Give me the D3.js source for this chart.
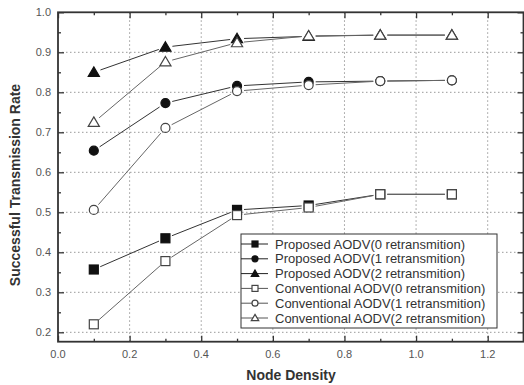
<!DOCTYPE html>
<html>
<head>
<meta charset="utf-8">
<script src="https://cdn.jsdelivr.net/npm/d3@7"></script>
<style>
  body { margin: 0; background: #fff; }
  text { font-family: "Liberation Sans", Arial, sans-serif; }
  .tick_label { font-size: 11px; fill: #555; }
  .axis_title { font-size: 14px; font-weight: bold; fill: #333; }
  .legend_text { font-size: 13px; fill: #333; }
</style>
</head>
<body>
<div id="d3-container"></div>
<script>
let density = [0.1, 0.3, 0.5, 0.7, 0.9, 1.1];

let proposed_0 = [0.357, 0.435, 0.506, 0.517, 0.545, 0.545];
let proposed_1 = [0.654, 0.773, 0.816, 0.826, 0.828, 0.830];
let proposed_2 = [0.850, 0.913, 0.934, 0.940, 0.943, 0.943];
let conventional_0 = [0.220, 0.378, 0.493, 0.512, 0.545, 0.545];
let conventional_1 = [0.506, 0.711, 0.803, 0.818, 0.828, 0.830];
let conventional_2 = [0.725, 0.876, 0.924, 0.941, 0.943, 0.943];

let series_names = [
    "Proposed AODV(0 retransmition)",
    "Proposed AODV(1 retransmition)",
    "Proposed AODV(2 retransmition)",
    "Conventional AODV(0 retransmition)",
    "Conventional AODV(1 retransmition)",
    "Conventional AODV(2 retransmition)"
];
let series_values = [proposed_0, proposed_1, proposed_2, conventional_0, conventional_1, conventional_2];
let series_shapes = ["square", "circle", "triangle", "square", "circle", "triangle"];
let series_filled = [true, true, true, false, false, false];

let x_ticks = [0.0, 0.2, 0.4, 0.6, 0.8, 1.0, 1.2];
let y_ticks = [0.2, 0.3, 0.4, 0.5, 0.6, 0.7, 0.8, 0.9, 1.0];

let window_width = 524;
let window_height = 385;
let plot_left = 58, plot_right = 523.5, plot_top = 12.3, plot_bottom = 341.7;

let svg = d3.select("#d3-container").append("svg")
    .attr("width", window_width)
    .attr("height", window_height);

let x = d3.scaleLinear().domain([0, 1.3]).range([plot_left, plot_right]);
let y = d3.scaleLinear().domain([0.1765, 1.0]).range([plot_bottom, plot_top]);

// grid
svg.append("g").selectAll("line")
    .data(x_ticks.slice(1))
    .enter().append("line")
    .attr("x1", d => x(d)).attr("x2", d => x(d))
    .attr("y1", plot_top).attr("y2", plot_bottom)
    .attr("stroke", "#999").attr("stroke-width", 1)
    .attr("stroke-dasharray", "1.5,2.5");
svg.append("g").selectAll("line")
    .data(y_ticks.slice(0, -1))
    .enter().append("line")
    .attr("x1", plot_left).attr("x2", plot_right)
    .attr("y1", d => y(d)).attr("y2", d => y(d))
    .attr("stroke", "#999").attr("stroke-width", 1)
    .attr("stroke-dasharray", "1.5,2.5");

// axes (inward ticks on all four sides)
let minor_x = d3.range(0.1, 1.3, 0.2);
let minor_y = d3.range(0.25, 1.0, 0.1);
svg.append("g").attr("transform", "translate(0," + plot_bottom + ")")
    .call(d3.axisTop(x).tickValues(x_ticks).tickSize(6).tickFormat(""));
svg.append("g").attr("transform", "translate(0," + plot_bottom + ")")
    .call(d3.axisTop(x).tickValues(minor_x).tickSize(3).tickFormat(""));
svg.append("g").attr("transform", "translate(0," + plot_top + ")")
    .call(d3.axisBottom(x).tickValues(x_ticks).tickSize(6).tickFormat(""));
svg.append("g").attr("transform", "translate(0," + plot_top + ")")
    .call(d3.axisBottom(x).tickValues(minor_x).tickSize(3).tickFormat(""));
svg.append("g").attr("transform", "translate(" + plot_left + ",0)")
    .call(d3.axisRight(y).tickValues(y_ticks).tickSize(6).tickFormat(""));
svg.append("g").attr("transform", "translate(" + plot_left + ",0)")
    .call(d3.axisRight(y).tickValues(minor_y).tickSize(3).tickFormat(""));
svg.append("g").attr("transform", "translate(" + plot_right + ",0)")
    .call(d3.axisLeft(y).tickValues(y_ticks).tickSize(6).tickFormat(""));
svg.append("g").attr("transform", "translate(" + plot_right + ",0)")
    .call(d3.axisLeft(y).tickValues(minor_y).tickSize(3).tickFormat(""));
svg.selectAll(".domain").remove();
svg.selectAll(".tick line").attr("stroke", "#333").attr("stroke-width", 1.3);

svg.append("rect")
    .attr("x", plot_left).attr("y", plot_top)
    .attr("width", plot_right - plot_left).attr("height", plot_bottom - plot_top)
    .attr("fill", "none").attr("stroke", "#333").attr("stroke-width", 1.8);

// tick labels
svg.selectAll(".xlab")
    .data(x_ticks)
    .enter().append("text")
    .classed("tick_label", true)
    .attr("x", d => x(d)).attr("y", plot_bottom + 16)
    .attr("text-anchor", "middle")
    .text(d => d.toFixed(1));
svg.selectAll(".ylab")
    .data(y_ticks)
    .enter().append("text")
    .classed("tick_label", true)
    .attr("x", plot_left - 7).attr("y", d => y(d) + 4)
    .attr("text-anchor", "end")
    .text(d => d.toFixed(1));

svg.append("text").classed("axis_title", true)
    .attr("x", 291).attr("y", 380)
    .attr("text-anchor", "middle")
    .text("Node Density");
svg.append("text").classed("axis_title", true)
    .attr("transform", "translate(20,185) rotate(-90)")
    .attr("text-anchor", "middle")
    .text("Successful Transmission Rate");

function draw_marker(g, shape, filled, cx, cy, s) {
    let fill = filled ? "#111" : "#fff";
    let stroke = filled ? "#111" : "#444";
    if (shape == "square") {
        g.append("rect").attr("x", cx - s / 2).attr("y", cy - s / 2)
            .attr("width", s).attr("height", s)
            .attr("fill", fill).attr("stroke", stroke).attr("stroke-width", 1.2);
    } else if (shape == "circle") {
        g.append("circle").attr("cx", cx).attr("cy", cy).attr("r", s / 2)
            .attr("fill", fill).attr("stroke", stroke).attr("stroke-width", 1.2);
    } else {
        let h = s * 1.0;
        g.append("path")
            .attr("d", "M" + cx + "," + (cy - h * 0.6) + " L" + (cx + s * 0.62) + "," + (cy + h * 0.45) +
                " L" + (cx - s * 0.62) + "," + (cy + h * 0.45) + " Z")
            .attr("fill", fill).attr("stroke", stroke).attr("stroke-width", 1.2);
    }
}

// series: proposed first, conventional drawn on top
let order = [0, 1, 2, 3, 4, 5];
let gap = 7;
order.forEach(function(i) {
    let vals = series_values[i];
    let g = svg.append("g");
    let line_color = series_filled[i] ? "#333" : "#666";
    for (let k = 0; k < density.length - 1; k++) {
        let x1 = x(density[k]), y1 = y(vals[k]);
        let x2 = x(density[k + 1]), y2 = y(vals[k + 1]);
        let len = Math.hypot(x2 - x1, y2 - y1);
        let ux = (x2 - x1) / len, uy = (y2 - y1) / len;
        g.append("line")
            .attr("x1", x1 + ux * gap).attr("y1", y1 + uy * gap)
            .attr("x2", x2 - ux * gap).attr("y2", y2 - uy * gap)
            .attr("stroke", line_color).attr("stroke-width", 1);
    }
    density.forEach(function(d, k) {
        draw_marker(g, series_shapes[i], series_filled[i], x(d), y(vals[k]), 9);
    });
});

// legend
let legend_x = 241, legend_y = 234, legend_w = 256, legend_h = 94;
let legend = svg.append("g");
legend.append("rect")
    .attr("x", legend_x).attr("y", legend_y)
    .attr("width", legend_w).attr("height", legend_h)
    .attr("fill", "#fff").attr("stroke", "#333").attr("stroke-width", 1);
series_names.forEach(function(name, i) {
    let ry = 244 + i * 14.8;
    legend.append("line")
        .attr("x1", legend_x).attr("x2", legend_x + 27)
        .attr("y1", ry).attr("y2", ry)
        .attr("stroke", series_filled[i] ? "#222" : "#555").attr("stroke-width", 1);
    draw_marker(legend, series_shapes[i], series_filled[i], legend_x + 14, ry, 6);
    legend.append("text").classed("legend_text", true)
        .attr("x", legend_x + 34).attr("y", ry + 4.5)
        .text(name);
});
</script>
</body>
</html>
